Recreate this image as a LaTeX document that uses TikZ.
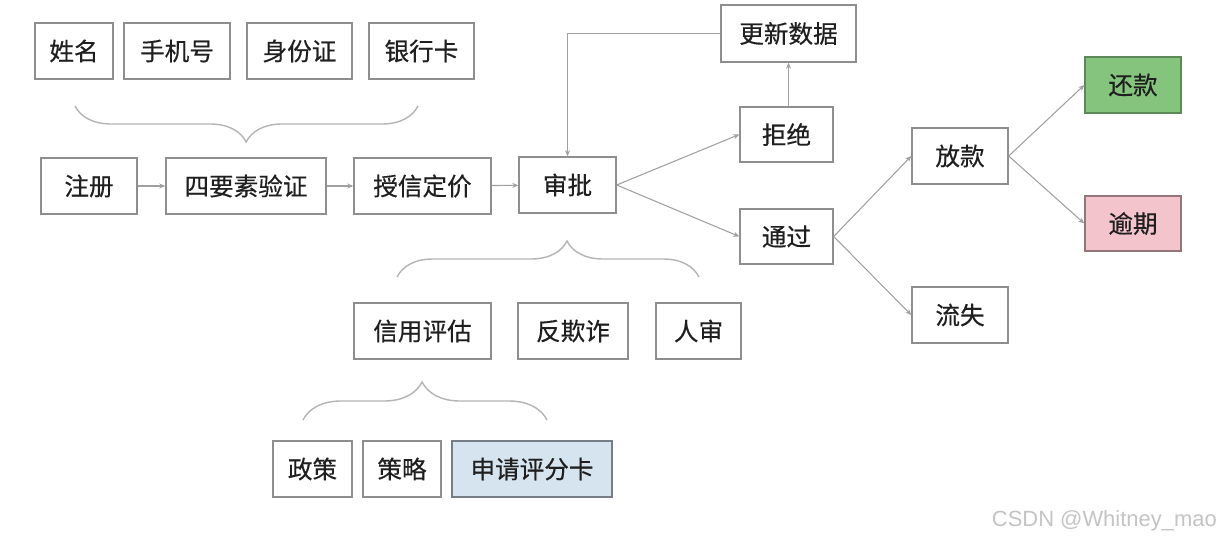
\documentclass[tikz,border=0pt]{standalone}
\usepackage{fontspec}
\usepackage{xcolor}
\usepackage{tikz}
\usetikzlibrary{arrows.meta,decorations.pathreplacing}
\setmainfont{Liberation Sans}
\newfontfamily\cjk[FakeBold=0.4]{Noto Sans CJK SC}
\definecolor{ink}{HTML}{1F1F1F}
\definecolor{edge}{HTML}{8E8E8E}
\definecolor{wire}{HTML}{A0A0A0}
\definecolor{brc}{HTML}{B4B4B4}
\definecolor{repay}{HTML}{84C47C}
\definecolor{overdue}{HTML}{F3C4CC}
\definecolor{score}{HTML}{D6E4F0}
\definecolor{mark}{HTML}{C4C4C4}
\newlength\px \setlength\px{0.02cm}
\tikzset{
  box/.style={rectangle, draw=edge, line width=0.8pt, fill=white, text=ink,
              minimum height=56\px, inner sep=0pt,
              font=\cjk\fontsize{14}{16}\selectfont},
  paid/.style={box, fill=repay, draw=repay!70!black},
  late/.style={box, fill=overdue, draw=overdue!60!black},
  card/.style={box, fill=score, draw=score!55!black},
  fl/.style={-{Stealth[length=1.2mm,width=1mm]}, draw=wire, line width=0.6pt},
  grp/.style={decorate, decoration={brace, amplitude=0.72cm, aspect=#1},
              draw=brc, line width=0.8pt},
  grp/.default=0.5
}

\begin{document}
\begin{tikzpicture}[x=0.02cm, y=-0.02cm]
  \fill[white] (0,0) rectangle (1227,541);
  \useasboundingbox (0,0) rectangle (1227,541);
  % four factors
  \node[box, minimum width=78\px]  (xm)  at (74,51)    {姓名};
  \node[box, minimum width=106\px] (sjh) at (177,51)   {手机号};
  \node[box, minimum width=105\px] (sfz) at (299.5,51) {身份证};
  \node[box, minimum width=105\px] (yhk) at (421.5,51) {银行卡};
  % main flow
  \node[box, minimum width=96\px]  (zc)  at (89,186)    {注册};
  \node[box, minimum width=160\px] (ysy) at (246,186)   {四要素验证};
  \node[box, minimum width=137\px] (sx)  at (422.5,186) {授信定价};
  \node[box, minimum width=97\px]  (sp)  at (567.5,185) {审批};
  \node[box, minimum width=135\px, minimum height=57\px] (gx) at (788.5,33.5) {更新数据};
  \node[box, minimum width=93\px, minimum height=55\px]  (jj) at (786.5,134.5) {拒绝};
  \node[box, minimum width=93\px, minimum height=55\px]  (tg) at (786.5,236.5) {通过};
  \node[box, minimum width=96\px]  (fk)  at (960,156)  {放款};
  \node[box, minimum width=96\px]  (ls)  at (960,315)  {流失};
  \node[paid, minimum width=96\px] (hk)  at (1133,85)  {还款};
  \node[late, minimum width=96\px, minimum height=55\px] (yq) at (1133,223.5) {逾期};
  % approval parts
  \node[box, minimum width=137\px] (xypg) at (422.5,331) {信用评估};
  \node[box, minimum width=110\px] (fqz)  at (573,331)   {反欺诈};
  \node[box, minimum width=85\px]  (rs)   at (698.5,331) {人审};
  \node[box, minimum width=79\px]  (zcs)  at (312.5,469) {政策};
  \node[box, minimum width=78\px]  (cl)   at (402,469)   {策略};
  \node[card, minimum width=160\px] (sqk) at (532,469)   {申请评分卡};

  \draw[fl] (zc)--(ysy); \draw[fl] (ysy)--(sx); \draw[fl] (sx)--(sp);
  \draw[fl] (sp.east)--(jj.west); \draw[fl] (sp.east)--(tg.west);
  \draw[fl] (jj.north -| gx.south)--(gx.south);
  \draw[fl] (gx.west) -| (sp.north);
  \draw[fl] (tg.east)--(fk.west); \draw[fl] (tg.east)--(ls.west);
  \draw[fl] (fk.east)--(hk.west); \draw[fl] (fk.east)--(yq.west);

  % braces
  \draw[grp=0.501] (418,106) -- (75,106);
  \draw[grp=0.563] (397,277) -- (699,277);
  \draw[grp=0.488, decoration={amplitude=0.76cm}] (303,420) -- (547,420);

  \node[text=mark, anchor=east, font=\fontsize{12.5}{14}\selectfont] (wm) at (1223,521) {CSDN @Whitney\_mao};
\end{tikzpicture}
\end{document}
